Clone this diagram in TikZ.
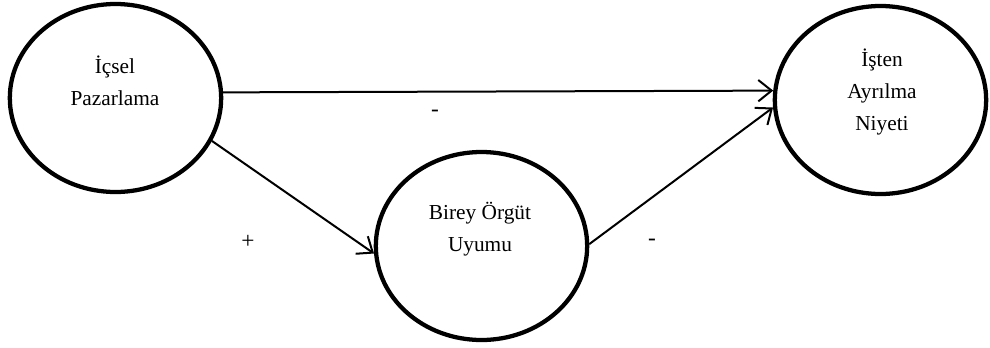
\documentclass[tikz,border=0pt]{standalone}
\usepackage{fontspec}
\setmainfont{Liberation Serif}
\usetikzlibrary{shapes.geometric,arrows.meta}
\begin{document}
\begin{tikzpicture}[x=0.75pt,y=-0.75pt,
		construct/.style={ellipse,draw,line width=3.2pt,minimum width=158.5pt,minimum height=141pt,inner sep=0pt},
		caption/.style={align=center,font=\fontsize{16}{24}\selectfont},
		link/.style={-{Straight Barb[length=10pt,width=16pt]},line width=1.5pt},
		sign/.style={font=\fontsize{17.5}{24}\selectfont}]
		\useasboundingbox (0,0) rectangle (990,347);
		\node[construct] (ip) at(115.5,98) {};
		\node[construct] (boy) at(481.5,246) {};
		\node[construct] (ian) at(880.5,100) {};
		\node[caption] (ipt) at(115,81) {İçsel\\Pazarlama};
		\node[caption] (boyt) at(480,229) {Birey Örgüt\\Uyumu};
		\node[caption] (iant) at(882,92) {İşten\\Ayrılma\\Niyeti};
		\draw[link] (ip.3.4) -- (ian.175.5);
		\draw[link] (ip.-24.8) -- (boy.-176.4);
		\draw[link] (boy.1.6) -- (ian.-176.3);
		\node[sign] (s0) at(435,113) {-};
		\node[sign] (s1) at(248,242) {+};
		\node[sign] (s2) at(652,242) {-};
	\end{tikzpicture}
\end{document}
